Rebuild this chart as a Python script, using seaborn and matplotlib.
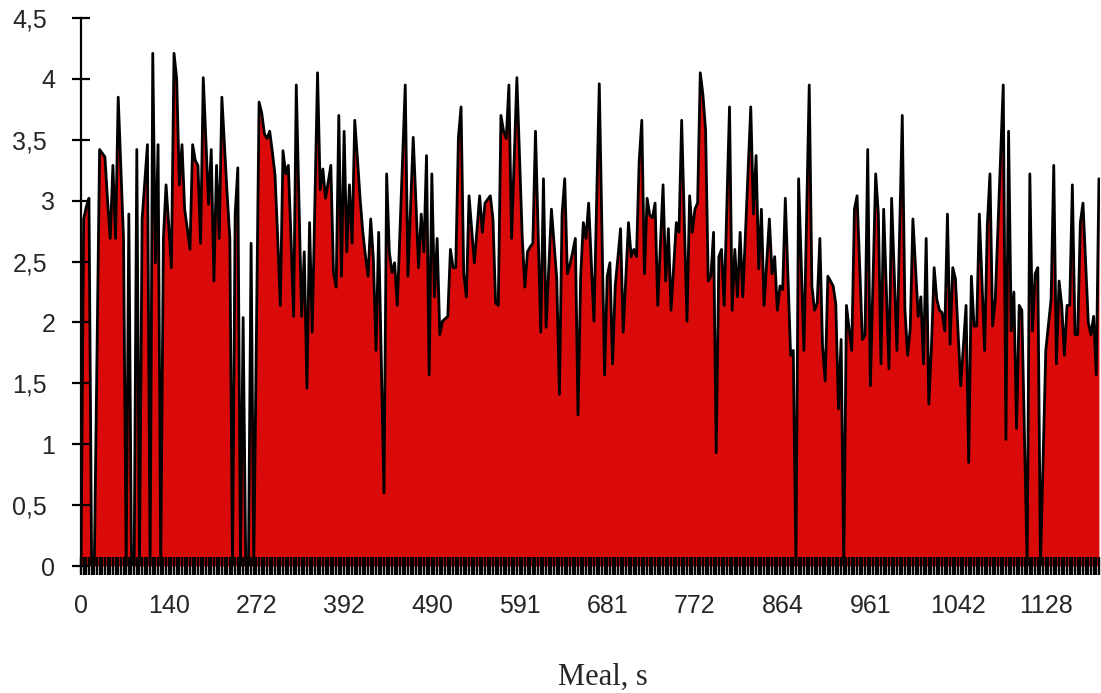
import numpy as np
import pandas as pd
import matplotlib
matplotlib.use("Agg")
import matplotlib.pyplot as plt
import seaborn as sns

sns.set_style("white")
plt.rcParams['font.family'] = ['Liberation Sans', 'DejaVu Sans']

# series values, one per meal sample
values = [
    0, 2.85, 2.95, 3.02, 0, 0, 1.7, 3.42, 3.39, 3.36,
    3.0, 2.69, 3.29, 2.69, 3.85, 3.27, 2.69, 0, 2.89, 0,
    0, 3.42, 0, 2.85, 3.15, 3.46, 0, 4.21, 2.49, 3.46,
    0, 2.69, 3.13, 2.8, 2.45, 4.21, 4.0, 3.13, 3.46, 2.93,
    2.77, 2.6, 3.46, 3.33, 3.29, 2.65, 4.01, 3.5, 2.97, 3.42,
    2.34, 3.29, 2.69, 3.85, 3.45, 3.05, 2.69, 0, 2.89, 3.27,
    0, 2.04, 0, 0, 2.65, 0, 1.9, 3.81, 3.72, 3.55,
    3.51, 3.57, 3.4, 3.21, 2.7, 2.14, 3.41, 3.22, 3.29, 2.7,
    2.05, 3.95, 3.0, 2.05, 2.58, 1.46, 2.82, 1.92, 3.0, 4.05,
    3.09, 3.26, 3.02, 3.15, 3.29, 2.41, 2.29, 3.7, 2.38, 3.57,
    2.58, 3.13, 2.65, 3.66, 3.35, 3.02, 2.75, 2.55, 2.38, 2.85,
    2.52, 1.77, 2.74, 1.67, 0.6, 3.22, 2.58, 2.41, 2.49, 2.14,
    2.75, 3.35, 3.95, 2.38, 2.95, 3.52, 3.0, 2.45, 2.89, 2.58,
    3.37, 1.57, 3.22, 2.21, 2.69, 1.9, 2.01, 2.03, 2.05, 2.6,
    2.45, 2.45, 3.52, 3.77, 2.4, 2.21, 3.04, 2.77, 2.49, 2.77,
    3.04, 2.74, 2.98, 3.01, 3.04, 2.85, 2.16, 2.14, 3.7, 3.57,
    3.51, 3.95, 2.69, 3.35, 4.01, 3.35, 2.71, 2.29, 2.58, 2.62,
    2.65, 3.57, 2.75, 1.92, 3.18, 1.96, 2.45, 2.93, 2.65, 2.36,
    1.41, 2.89, 3.18, 2.4, 2.48, 2.58, 2.69, 1.24, 2.38, 2.82,
    2.69, 2.98, 2.5, 2.01, 3.0, 3.96, 2.77, 1.57, 2.38, 2.49,
    1.66, 2.3, 2.53, 2.77, 1.92, 2.37, 2.82, 2.54, 2.6, 2.54,
    3.32, 3.66, 2.4, 3.02, 2.88, 2.86, 2.98, 2.14, 2.64, 3.13,
    2.34, 2.77, 2.1, 2.46, 2.82, 2.74, 3.66, 2.84, 2.01, 3.04,
    2.74, 2.93, 2.98, 4.05, 3.87, 3.58, 2.34, 2.38, 2.74, 0.93,
    2.54, 2.6, 2.14, 2.95, 3.77, 2.1, 2.6, 2.21, 2.74, 2.21,
    2.73, 3.25, 3.77, 2.89, 3.37, 2.44, 2.93, 2.14, 2.5, 2.85,
    2.4, 2.54, 2.1, 2.3, 2.27, 3.02, 2.38, 1.73, 1.77, 0,
    3.18, 2.48, 1.77, 2.86, 3.95, 2.3, 2.1, 2.16, 2.69, 1.81,
    1.52, 2.38, 2.34, 2.3, 2.15, 1.29, 1.86, 0, 2.14, 1.95,
    1.77, 2.93, 3.04, 2.45, 1.86, 1.9, 3.42, 1.48, 2.35, 3.22,
    2.89, 1.66, 2.93, 2.27, 1.62, 3.02, 2.4, 1.77, 2.73, 3.7,
    2.11, 1.73, 1.95, 2.85, 2.45, 2.05, 2.21, 1.66, 2.69, 1.33,
    1.81, 2.45, 2.19, 2.1, 2.08, 1.93, 2.89, 1.82, 2.45, 2.36,
    1.92, 1.48, 1.81, 2.14, 0.85, 2.38, 1.97, 1.97, 2.89, 2.33,
    1.77, 2.8, 3.22, 1.97, 2.19, 2.78, 3.37, 3.95, 1.04, 3.57,
    1.93, 2.25, 1.13, 2.14, 2.1, 1.05, 0, 3.22, 1.93, 2.4,
    2.45, 0, 0.88, 1.77, 1.98, 2.19, 3.29, 1.66, 2.34, 2.14,
    1.73, 2.14, 2.14, 3.13, 1.9, 1.9, 2.82, 2.98, 2.5, 2.0,
    1.9, 2.05, 1.57, 3.18,
]

# time labels shown under every 33rd sample
time_labels = ["0", "140", "272", "392", "490", "591", "681",
               "772", "864", "961", "1042", "1128"]
label_step = 33

y_ticks = [0, 0.5, 1, 1.5, 2, 2.5, 3, 3.5, 4, 4.5]

df = pd.DataFrame({'sample': np.arange(len(values)), 'value': values})

fig = plt.figure(figsize=(11.01, 6.93), dpi=100)
ax = fig.add_axes([81 / 1101, 127 / 693, 1019 / 1101, 548 / 693])
ax.set_axisbelow(False)  # ticks drawn over the red area

ax.fill_between(df['sample'], df['value'], 0, color='#DB0A0A', linewidth=0)
sns.lineplot(data=df, x='sample', y='value', color='black', linewidth=2.0, ax=ax)

ax.set_xlim(0, len(values) - 0.6)
ax.set_ylim(0, 4.5)

for s in ['top', 'right', 'bottom']:
    ax.spines[s].set_visible(False)
ax.spines['left'].set_linewidth(1.6)
ax.spines['left'].set_color('black')

major_pos = np.arange(len(time_labels)) * label_step
ax.set_xticks(major_pos)
ax.set_xticklabels(time_labels)
ax.set_xticks(np.arange(len(values)), minor=True)
ax.tick_params(axis='x', which='major', bottom=True, direction='inout',
               length=13, width=1.7, color='black', labelsize=18, pad=14)
ax.tick_params(axis='x', which='minor', bottom=True, direction='inout',
               length=13, width=1.7, color='black')

ax.set_yticks(y_ticks)
ax.set_yticklabels([f"{v:g}".replace('.', ',') for v in y_ticks])
ax.tick_params(axis='y', left=True, direction='inout', length=13, width=1.6,
               color='black', labelsize=18)
for t, v in zip(ax.yaxis.get_major_ticks(), y_ticks):
    t.set_pad(12 if float(v).is_integer() else 18)

ax.set_xlabel('')
ax.set_ylabel('')
ax.grid(False)

fig.text(603 / 1101, 1 - 677 / 693, 'Meal, s', family='Liberation Serif',
         fontsize=22, ha='center', va='center')

fig.savefig('out.png', dpi=100)
